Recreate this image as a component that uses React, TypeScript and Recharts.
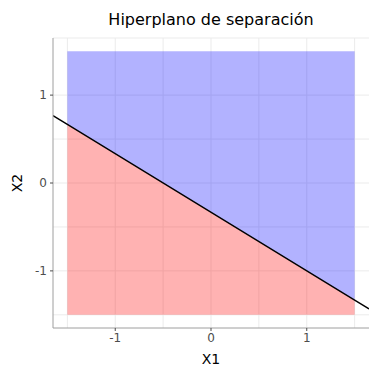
import React from "react";
import {
  ComposedChart,
  Area,
  Line,
  XAxis,
  YAxis,
  CartesianGrid,
  Label,
} from "recharts";

// Hyperplane 1 + 2·X1 + 3·X2 = 0, sampled at the panel edges and region edges
const x1Values = [-1.65, -1.5, 1.5, 1.65];
const boundaryX2 = [0.767, 0.667, -1.333, -1.433];
const regionX1 = [-1.5, 1.5];
const regionX2 = [-1.5, 1.5];

const xTicks = [-1, 0, 1];
const yTicks = [-1, 0, 1];
const gridX = [-1.5, -1, -0.5, 0, 0.5, 1, 1.5];
const gridY = [-1.5, -1, -0.5, 0, 0.5, 1, 1.5, 1.65];

const rows = x1Values.map((x1, i) => {
  const inside = x1 >= regionX1[0] && x1 <= regionX1[1];
  return {
    x1,
    boundary: boundaryX2[i],
    negative: inside ? [regionX2[0], boundaryX2[i]] : null,
    positive: inside ? [boundaryX2[i], regionX2[1]] : null,
  };
});

const FONT = "DejaVu Sans, sans-serif";
const W = 369;
const H = 372;

export default function App() {
  return (
    <div
      style={{
        position: "absolute",
        left: 0,
        top: 0,
        width: W,
        height: H,
        background: "#fff",
        fontFamily: FONT,
      }}
    >
      <div
        style={{
          position: "absolute",
          left: 53,
          width: 316,
          top: 10,
          textAlign: "center",
          fontSize: 16,
          color: "#000",
          lineHeight: "20px",
        }}
      >
        Hiperplano de separación
      </div>
      <ComposedChart
        width={W}
        height={H}
        data={rows}
        margin={{ top: 38, right: 0, bottom: 0, left: 0 }}
        style={{ position: "absolute", left: 0, top: 0 }}
      >
        <CartesianGrid
          stroke="#ebebeb"
          strokeWidth={1}
          verticalValues={gridX}
          horizontalValues={gridY}
        />
        <XAxis
          dataKey="x1"
          type="number"
          domain={[-1.65, 1.65]}
          ticks={xTicks}
          allowDataOverflow
          height={44}
          stroke="#9e9e9e"
          tickSize={3}
          tickLine={{ stroke: "#4d4d4d" }}
          tick={{ fill: "#4d4d4d", fontSize: 12, fontFamily: FONT }}
          tickMargin={2}
        >
          <Label
            value="X1"
            position="insideBottom"
            offset={8}
            style={{ fill: "#000", fontSize: 14, fontFamily: FONT }}
          />
        </XAxis>
        <YAxis
          type="number"
          domain={[-1.65, 1.65]}
          ticks={yTicks}
          allowDataOverflow
          width={53}
          stroke="#9e9e9e"
          tickSize={3}
          tickLine={{ stroke: "#4d4d4d" }}
          tick={{ fill: "#4d4d4d", fontSize: 12, fontFamily: FONT }}
          tickMargin={3}
        >
          <Label
            value="X2"
            angle={-90}
            position="insideLeft"
            offset={17}
            style={{ fill: "#000", fontSize: 14, fontFamily: FONT, textAnchor: "middle" }}
          />
        </YAxis>
        <Area
          dataKey="negative"
          type="linear"
          stroke="none"
          fill="#ff0000"
          fillOpacity={0.3}
          isAnimationActive={false}
          connectNulls={false}
        />
        <Area
          dataKey="positive"
          type="linear"
          stroke="none"
          fill="#0000ff"
          fillOpacity={0.3}
          isAnimationActive={false}
          connectNulls={false}
        />
        <Line
          dataKey="boundary"
          type="linear"
          stroke="#000"
          strokeWidth={1.4}
          dot={false}
          activeDot={false}
          isAnimationActive={false}
        />
      </ComposedChart>
    </div>
  );
}
